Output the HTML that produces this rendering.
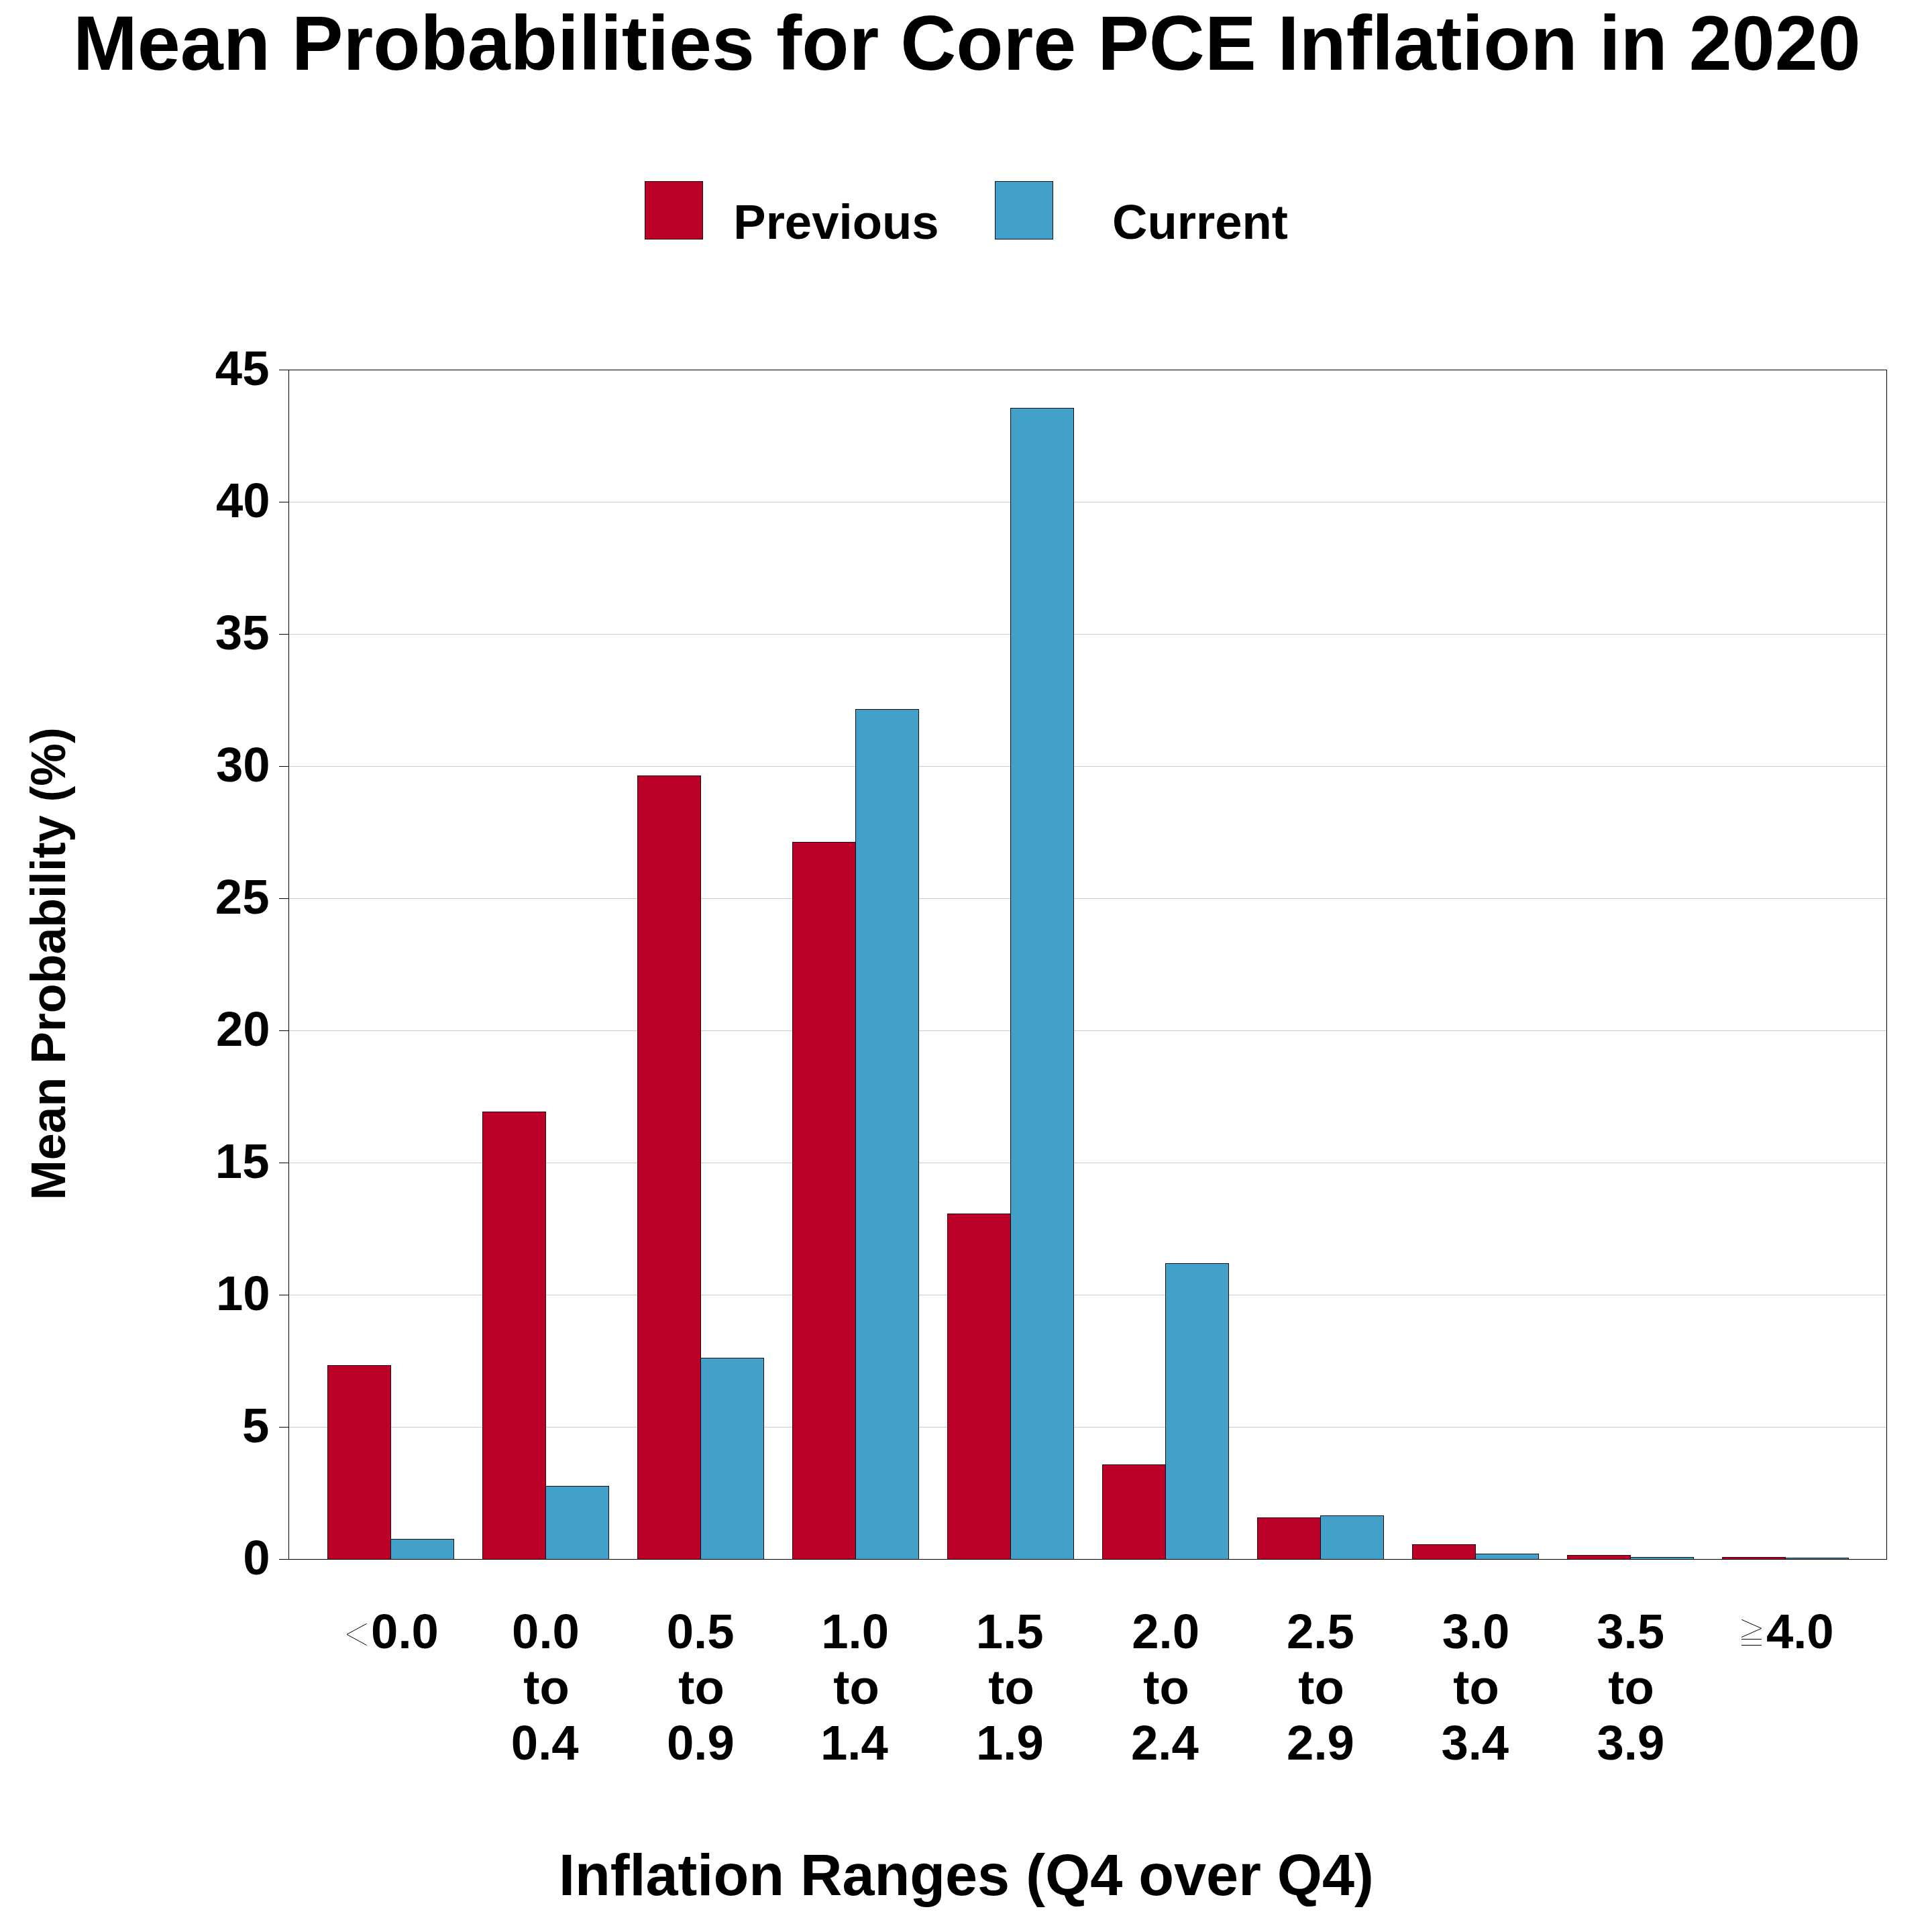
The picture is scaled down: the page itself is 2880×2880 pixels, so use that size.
<!DOCTYPE html>
<html><head><meta charset="utf-8"><title>Mean Probabilities for Core PCE Inflation in 2020</title>
<style>html,body{margin:0;padding:0;background:#fff;} svg{display:block;} text{font-family:"Liberation Sans",sans-serif;font-weight:bold;fill:#000;}</style>
</head><body>
<svg width="2880" height="2880" viewBox="0 0 2880 2880">
<rect x="0" y="0" width="2880" height="2880" fill="#fff"/>
<rect x="430" y="2127" width="2382" height="1" fill="#CCCCCC"/>
<rect x="430" y="1930" width="2382" height="1" fill="#CCCCCC"/>
<rect x="430" y="1733" width="2382" height="1" fill="#CCCCCC"/>
<rect x="430" y="1536" width="2382" height="1" fill="#CCCCCC"/>
<rect x="430" y="1339" width="2382" height="1" fill="#CCCCCC"/>
<rect x="430" y="1142" width="2382" height="1" fill="#CCCCCC"/>
<rect x="430" y="945" width="2382" height="1" fill="#CCCCCC"/>
<rect x="430" y="748" width="2382" height="1" fill="#CCCCCC"/>
<rect x="488.5" y="2035.5" width="94" height="289" fill="#BB0027" stroke="#2a0005" stroke-width="1"/>
<rect x="582.5" y="2294.5" width="94" height="30" fill="#43A1C9" stroke="#00101c" stroke-width="1"/>
<rect x="719.5" y="1657.5" width="94" height="667" fill="#BB0027" stroke="#2a0005" stroke-width="1"/>
<rect x="813.5" y="2215.5" width="94" height="109" fill="#43A1C9" stroke="#00101c" stroke-width="1"/>
<rect x="950.5" y="1156.5" width="94" height="1168" fill="#BB0027" stroke="#2a0005" stroke-width="1"/>
<rect x="1044.5" y="2024.5" width="94" height="300" fill="#43A1C9" stroke="#00101c" stroke-width="1"/>
<rect x="1181.5" y="1255.5" width="94" height="1069" fill="#BB0027" stroke="#2a0005" stroke-width="1"/>
<rect x="1275.5" y="1057.5" width="94" height="1267" fill="#43A1C9" stroke="#00101c" stroke-width="1"/>
<rect x="1412.5" y="1809.5" width="94" height="515" fill="#BB0027" stroke="#2a0005" stroke-width="1"/>
<rect x="1506.5" y="608.5" width="94" height="1716" fill="#43A1C9" stroke="#00101c" stroke-width="1"/>
<rect x="1643.5" y="2183.5" width="94" height="141" fill="#BB0027" stroke="#2a0005" stroke-width="1"/>
<rect x="1737.5" y="1883.5" width="94" height="441" fill="#43A1C9" stroke="#00101c" stroke-width="1"/>
<rect x="1874.5" y="2262.5" width="94" height="62" fill="#BB0027" stroke="#2a0005" stroke-width="1"/>
<rect x="1968.5" y="2259.5" width="94" height="65" fill="#43A1C9" stroke="#00101c" stroke-width="1"/>
<rect x="2105.5" y="2302.5" width="94" height="22" fill="#BB0027" stroke="#2a0005" stroke-width="1"/>
<rect x="2199.5" y="2316.5" width="94" height="8" fill="#43A1C9" stroke="#00101c" stroke-width="1"/>
<rect x="2336.5" y="2318.5" width="94" height="6" fill="#BB0027" stroke="#2a0005" stroke-width="1"/>
<rect x="2430.5" y="2321.5" width="94" height="3" fill="#43A1C9" stroke="#00101c" stroke-width="1"/>
<rect x="2567.5" y="2321.5" width="94" height="3" fill="#BB0027" stroke="#2a0005" stroke-width="1"/>
<rect x="2661.5" y="2322.5" width="94" height="2" fill="#43A1C9" stroke="#00101c" stroke-width="1"/>
<rect x="430.5" y="551.5" width="2382" height="1773" fill="none" stroke="#000" stroke-width="1"/>
<rect x="416" y="2324" width="14" height="1" fill="#000"/>
<rect x="416" y="2127" width="14" height="1" fill="#000"/>
<rect x="416" y="1930" width="14" height="1" fill="#000"/>
<rect x="416" y="1733" width="14" height="1" fill="#000"/>
<rect x="416" y="1536" width="14" height="1" fill="#000"/>
<rect x="416" y="1339" width="14" height="1" fill="#000"/>
<rect x="416" y="1142" width="14" height="1" fill="#000"/>
<rect x="416" y="945" width="14" height="1" fill="#000"/>
<rect x="416" y="748" width="14" height="1" fill="#000"/>
<rect x="416" y="551" width="14" height="1" fill="#000"/>
<rect x="961.5" y="270.5" width="86" height="86" fill="#BB0027" stroke="#2a0005" stroke-width="1"/>
<rect x="1483.5" y="270.5" width="86" height="86" fill="#43A1C9" stroke="#00101c" stroke-width="1"/>
<polyline points="546.6,2420.3 517,2436.4 546.6,2452.5" fill="none" stroke="#000" stroke-width="1"/>
<polyline points="2596.1,2414.3 2625.8,2427.4 2596.1,2440.6" fill="none" stroke="#000" stroke-width="1"/>
<line x1="2596" y1="2443.5" x2="2626" y2="2443.5" stroke="#000" stroke-width="1"/>
<line x1="2596" y1="2452.5" x2="2626" y2="2452.5" stroke="#000" stroke-width="1"/>
<g>
<text x="362.16" y="2347" font-size="72.5">0</text>
<text x="361.07" y="2150" font-size="72.5">5</text>
<text x="321.93" y="1953" font-size="72.5">10</text>
<text x="320.84" y="1756" font-size="72.5">15</text>
<text x="321.93" y="1559" font-size="72.5">20</text>
<text x="320.84" y="1362" font-size="72.5">25</text>
<text x="321.93" y="1165" font-size="72.5">30</text>
<text x="320.84" y="968" font-size="72.5">35</text>
<text x="321.93" y="771" font-size="72.5">40</text>
<text x="320.84" y="574" font-size="72.5">45</text>
<text x="553.10" y="2457" font-size="72.5">0.0</text>
<text x="763.11" y="2457" font-size="72.5">0.0</text>
<text x="780.33" y="2540" font-size="72.5">to</text>
<text x="761.84" y="2623" font-size="72.5">0.4</text>
<text x="993.75" y="2457" font-size="72.5">0.5</text>
<text x="1011.33" y="2540" font-size="72.5">to</text>
<text x="993.93" y="2623" font-size="72.5">0.9</text>
<text x="1224.21" y="2457" font-size="72.5">1.0</text>
<text x="1242.33" y="2540" font-size="72.5">to</text>
<text x="1222.94" y="2623" font-size="72.5">1.4</text>
<text x="1454.84" y="2457" font-size="72.5">1.5</text>
<text x="1473.33" y="2540" font-size="72.5">to</text>
<text x="1455.03" y="2623" font-size="72.5">1.9</text>
<text x="1687.29" y="2457" font-size="72.5">2.0</text>
<text x="1704.33" y="2540" font-size="72.5">to</text>
<text x="1686.03" y="2623" font-size="72.5">2.4</text>
<text x="1917.93" y="2457" font-size="72.5">2.5</text>
<text x="1935.33" y="2540" font-size="72.5">to</text>
<text x="1918.11" y="2623" font-size="72.5">2.9</text>
<text x="2149.66" y="2457" font-size="72.5">3.0</text>
<text x="2166.33" y="2540" font-size="72.5">to</text>
<text x="2148.39" y="2623" font-size="72.5">3.4</text>
<text x="2380.29" y="2457" font-size="72.5">3.5</text>
<text x="2397.33" y="2540" font-size="72.5">to</text>
<text x="2380.47" y="2623" font-size="72.5">3.9</text>
<text x="2632.91" y="2457" font-size="72.5">4.0</text>
<text x="108.95" y="104" font-size="115">Mean Probabilities for Core PCE Inflation in 2020</text>
<text x="1093.29" y="356" font-size="72.5">Previous</text>
<text x="1658.10" y="356" font-size="72.5">Current</text>
<text x="832.95" y="2825" font-size="86.43">Inflation Ranges (Q4 over Q4)</text>
<text transform="translate(97,1789.02) rotate(-90)" x="0" y="0" font-size="71.7">Mean Probability (%)</text>
</g>
</svg>
</body></html>
